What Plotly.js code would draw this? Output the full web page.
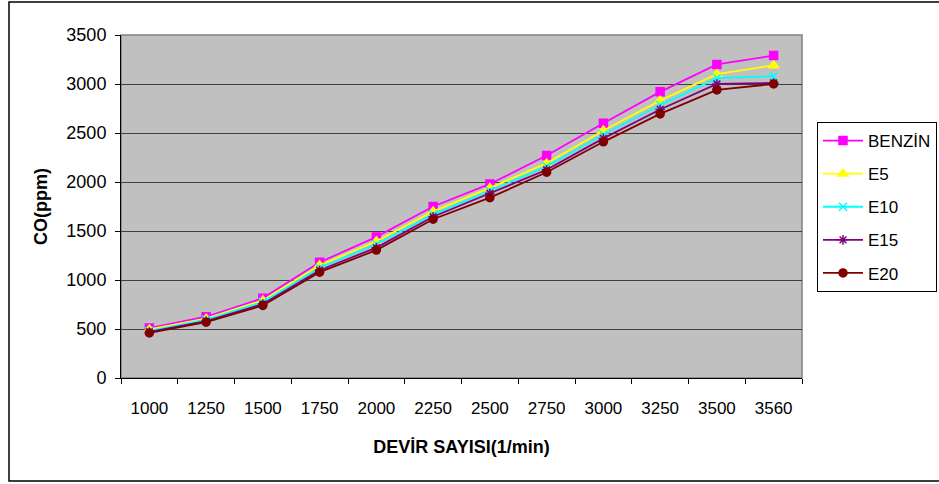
<!DOCTYPE html>
<html>
<head>
<meta charset="utf-8">
<script src="https://cdn.plot.ly/plotly-3.0.1.min.js"></script>
<style>
html,body{margin:0;padding:0;background:#fff;}
#chart{width:939px;height:484px;}
</style>
</head>
<body>
<div id="chart"></div>
<script>
const rpm = ['1000','1250','1500','1750','2000','2250','2500','2750','3000','3250','3500','3560'];
const benzin = [510, 625, 815, 1180, 1440, 1750, 1980, 2270, 2600, 2920, 3200, 3290];
const e5     = [495, 605, 790, 1150, 1395, 1700, 1940, 2190, 2525, 2830, 3100, 3190];
const e10    = [480, 595, 775, 1125, 1365, 1670, 1910, 2160, 2485, 2785, 3060, 3080];
const e15    = [470, 580, 755, 1100, 1330, 1645, 1885, 2125, 2445, 2740, 3000, 3010];
const e20    = [460, 570, 740, 1080, 1305, 1620, 1840, 2100, 2410, 2695, 2940, 3000];
const seriesNames = ['BENZİN','E5','E10','E15','E20'];
const yTicks = [0,500,1000,1500,2000,2500,3000,3500];

const styles = [
  {color:'#FF00FF', symbol:'square', size:8},
  {color:'#FFFF00', symbol:'triangle-up', size:9},
  {color:'#00FFFF', symbol:'x-thin-open', size:8},
  {color:'#800080', symbol:'asterisk-open', size:8},
  {color:'#800000', symbol:'circle', size:8}
];
const data = [benzin, e5, e10, e15, e20].map((vals, i) => ({
  type:'scatter', mode:'lines+markers', x: rpm, y: vals, name: seriesNames[i],
  legendgroup: 'g'+i,
  line:{color:styles[i].color, width:1.8},
  marker:{color:styles[i].color, symbol:styles[i].symbol, size:styles[i].size,
          line:{color:styles[i].color, width:1.5}}
}));

const L = 121, R = 802, T = 35, B = 378, W = 939, H = 484;
const pw = R - L, ph = B - T;
const px = v => (v - L) / pw;
const py = v => (B - v) / ph;

const layout = {
  width: W, height: H,
  margin: {l: L, r: W - R, t: T, b: H - B, pad: 0, autoexpand: false},
  paper_bgcolor: '#ffffff',
  plot_bgcolor: '#C0C0C0',
  font: {family: 'Arial, "Liberation Sans", sans-serif', color: '#000', size: 17},
  showlegend: true,
  legend: {
    x: px(817), y: py(122), xanchor: 'left', yanchor: 'top',
    bgcolor: '#ffffff', bordercolor: '#000000', borderwidth: 1,
    font: {size: 17, color: '#000'}, tracegroupgap: 8, itemwidth: 40
  },
  xaxis: {
    type: 'category', range: [-0.5, 11.5], tickson: 'boundaries',
    showgrid: false, zeroline: false, automargin: false,
    showline: true, linecolor: '#000', linewidth: 1,
    ticks: 'outside', ticklen: 5, tickcolor: '#000',
    tickfont: {size: 17}, ticklabelstandoff: 15,
    title: {text: '<b>DEVİR SAYISI(1/min)</b>', font: {size: 18}, standoff: 22}
  },
  yaxis: {
    range: [0, 3500], tickvals: yTicks, ticktext: yTicks.map(String),
    showgrid: true, gridcolor: '#404040', gridwidth: 1, zeroline: false, automargin: false,
    showline: true, linecolor: '#000', linewidth: 1,
    ticks: 'outside', ticklen: 5, tickcolor: '#000',
    tickfont: {size: 18}, ticklabelstandoff: 5,
    title: {text: '<b>CO(ppm)</b>', font: {size: 18}, standoff: 14}
  },
  shapes: [
    {type:'rect', xref:'paper', yref:'paper', x0:0, x1:1, y0:0, y1:1,
     line:{color:'#808080', width:1.5}, fillcolor:'rgba(0,0,0,0)', layer:'below'},
    {type:'rect', xref:'paper', yref:'paper', x0:px(9), x1:px(945), y0:py(481), y1:py(2),
     line:{color:'#000', width:1.5}, fillcolor:'rgba(0,0,0,0)'}
  ]
};

Plotly.newPlot('chart', data, layout, {displayModeBar:false, staticPlot:true});
</script>
</body>
</html>
